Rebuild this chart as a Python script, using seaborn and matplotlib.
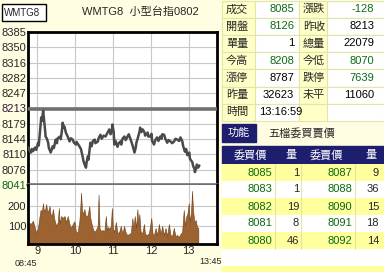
import numpy as np
import pandas as pd
import matplotlib
matplotlib.use("Agg")
import matplotlib.pyplot as plt
import seaborn as sns
from matplotlib.patches import Rectangle

sns.set_style("white")
plt.rcParams['font.family'] = ['Liberation Sans', 'Noto Sans CJK TC', 'DejaVu Sans']

# ---------------- data ----------------
price_min = [0, 1.6, 4.7, 6, 8, 11, 13, 16, 17, 19,
             21, 22, 24, 25, 27, 28, 30, 32, 33, 36,
             38, 39, 41, 44, 46, 47, 51, 52, 54, 55,
             57, 58, 60, 63, 66, 68, 71, 73, 76, 77,
             82, 84, 87, 88, 90, 92, 93, 95, 96, 99,
             101, 103, 106, 107, 111, 112, 115, 117, 120, 123,
             126, 129, 131, 133, 134, 136, 137, 139, 142, 144,
             147, 148, 150, 153, 155, 158, 160, 163, 166, 169,
             171, 172, 174, 177, 178, 180, 182, 185, 186, 190,
             191, 194, 196, 197, 200, 202, 205, 207, 210, 212,
             213, 216, 218, 221, 223, 226, 229, 232, 234, 237,
             240, 242, 245, 246, 249, 251, 253, 256, 257, 261,
             262, 264, 265, 267, 268, 270, 272]
price_val = [8126, 8120, 8114, 8122, 8117, 8125, 8120, 8136, 8130, 8160,
             8193, 8185, 8208, 8195, 8166, 8150, 8145, 8136, 8125, 8114,
             8122, 8128, 8124, 8143, 8135, 8146, 8150, 8144, 8165, 8181,
             8170, 8172, 8159, 8150, 8139, 8146, 8143, 8136, 8132, 8138,
             8127, 8122, 8103, 8095, 8087, 8080, 8092, 8105, 8098, 8136,
             8128, 8140, 8143, 8135, 8139, 8146, 8154, 8145, 8152, 8150,
             8158, 8166, 8155, 8162, 8177, 8160, 8132, 8140, 8127, 8135,
             8139, 8132, 8145, 8150, 8142, 8150, 8155, 8143, 8130, 8114,
             8125, 8136, 8145, 8161, 8170, 8160, 8166, 8159, 8152, 8159,
             8150, 8150, 8156, 8140, 8132, 8142, 8148, 8140, 8150, 8145,
             8155, 8154, 8145, 8136, 8142, 8139, 8135, 8139, 8145, 8143,
             8140, 8148, 8139, 8130, 8116, 8122, 8108, 8114, 8100, 8092,
             8084, 8078, 8070, 8080, 8087, 8080, 8085]

vol_min = [0, 4.2, 7.9, 10.5, 13.2, 15.8, 18.4, 20, 22.1, 23.7,
           25.2, 27.4, 28.9, 30.5, 32.6, 34.2, 35.8, 37.9, 39.5, 42.1,
           44.7, 47.3, 48.9, 50.5, 52.6, 55.2, 57.9, 60.5, 63.1, 65.8,
           68.4, 71, 73.6, 76.3, 78.9, 81.5, 83.1, 84.2, 85.7, 87.8,
           89.4, 92, 94.7, 97.3, 98.9, 101, 102.6, 105.2, 107.8, 110.5,
           112, 113.6, 115.7, 118.4, 121, 123.6, 125.2, 127.3, 129.4, 131.5,
           133.1, 134.7, 136.8, 139.4, 142, 144.7, 147.3, 149.9, 152.5, 155.2,
           157.8, 160.4, 163.1, 165.7, 167.3, 169.4, 171.5, 173.6, 175.2, 176.7,
           178.8, 181.5, 184.1, 185.7, 189.4, 192, 195.7, 197.8, 199.9, 202.5,
           205.1, 207.8, 210.4, 213, 215.7, 218.3, 220.9, 223.6, 226.2, 228.8,
           231.4, 234.1, 236.7, 239.3, 242, 244.6, 247.2, 249.3, 251.4, 253,
           255.1, 256.7, 258.8, 260.4, 261.9, 264.1, 266.2, 268.3, 270.4]
vol_val = [120, 110, 126, 95, 67, 90, 150, 181, 170, 214,
           175, 185, 210, 170, 180, 200, 160, 150, 185, 130,
           100, 120, 190, 110, 150, 140, 150, 120, 150, 110,
           90, 110, 124, 67, 70, 124, 200, 267, 180, 160,
           185, 145, 155, 200, 140, 110, 90, 70, 80, 100,
           257, 90, 75, 80, 70, 150, 80, 95, 85, 100,
           190, 90, 70, 120, 65, 70, 100, 60, 100, 65,
           55, 60, 65, 140, 80, 150, 90, 185, 100, 160,
           70, 65, 110, 60, 55, 65, 140, 60, 55, 90,
           55, 110, 60, 100, 55, 90, 50, 110, 55, 50,
           90, 50, 55, 45, 60, 70, 180, 100, 150, 160,
           214, 120, 170, 276, 180, 120, 130, 95, 90]

price_ticks = [8041, 8076, 8110, 8144, 8179, 8213, 8247, 8282, 8316, 8350, 8385]
prev_close = 8213
vol_ticks = [100, 200]
time_ticks = [15, 75, 135, 195, 255]
time_labels = ['9', '10', '11', '12', '13']

quote_labels_l = ['成交', '開盤', '單量', '今高', '漲停', '昨量', '時間']
quote_values_l = ['8085', '8126', '1', '8208', '8787', '32623', '13:16:59']
quote_colors_l = ['g', 'g', 'k', 'g', 'k', 'k', 'k']
quote_labels_r = ['漲跌', '昨收', '總量', '今低', '跌停', '未平', '']
quote_values_r = ['-128', '8213', '22079', '8070', '7639', '11060', '']
quote_colors_r = ['g', 'k', 'k', 'g', 'g', 'k', 'k']

bid_price = ['8085', '8083', '8082', '8081', '8080']
bid_qty = ['1', '1', '19', '8', '46']
ask_price = ['8087', '8088', '8090', '8091', '8092']
ask_qty = ['9', '36', '15', '18', '14']
book_header = ['委買價', '量', '委賣價', '量']

# ---------------- layout ----------------
W, H = 384, 272
BG = '#FFFEE2'
GREEN = '#0B6A12'
NAVY = '#1E1E6E'
cmap = {'g': GREEN, 'k': 'black'}

def px(x0, y0, x1, y1):
    return [x0 / W, 1 - y1 / H, (x1 - x0) / W, (y1 - y0) / H]

fig = plt.figure(figsize=(W / 100, H / 100), dpi=100, facecolor=BG)

ov = fig.add_axes([0, 0, 1, 1])
ov.set_xlim(0, W)
ov.set_ylim(H, 0)
ov.axis('off')

FS = 8

# title area
ov.add_patch(Rectangle((2, 4), 44, 17, fc='white', ec='black', lw=1))
ov.text(4, 12.5, 'WMTG8', ha='left', va='center', fontsize=7)
ov.text(140, 12, 'WMTG8  小型台指0802', ha='center', va='center', fontsize=FS)

# price axes
ax = fig.add_axes(px(28, 32, 217, 185))
ax.set_facecolor('white')
ymin, ymax = price_ticks[0], price_ticks[-1]
ax.set_xlim(0, 300)
ax.set_ylim(ymin, ymax)
grid_y = np.linspace(ymin, ymax, len(price_ticks))
ax.set_yticks(grid_y)
ax.set_yticklabels([str(v) for v in price_ticks])
ax.set_xticks(time_ticks)
ax.set_xticklabels([])
ax.grid(True, color='#C8C8C8', lw=0.8)
ax.set_axisbelow(True)
ax.axhline(prev_close, color='#707070', lw=2.6, zorder=3)
ax.axhline(ymin, color='#707070', lw=2.6, zorder=3, clip_on=False)
df = pd.DataFrame({'t': price_min, 'p': price_val})
sns.lineplot(data=df, x='t', y='p', ax=ax, color='#4A4A4A', lw=1.8,
             estimator=None, zorder=4)
ax.set_xlabel('')
ax.set_ylabel('')
ax.tick_params(axis='both', length=0, pad=1.2, labelsize=FS)
for lab in ax.get_yticklabels():
    if lab.get_text() == str(ymin):
        lab.set_color(GREEN)
    elif lab.get_text() == str(prev_close):
        lab.set_color('#301838')
for s in ['left', 'top', 'right']:
    ax.spines[s].set_color('black')
    ax.spines[s].set_linewidth(2)
ax.spines['bottom'].set_visible(False)

# volume axes
av = fig.add_axes(px(28, 185, 217, 244))
av.set_facecolor('white')
av.set_xlim(0, 300)
av.set_ylim(10, 305)
av.set_yticks(vol_ticks)
av.set_yticklabels([str(v) for v in vol_ticks])
av.set_xticks(time_ticks)
av.set_xticklabels(time_labels)
av.grid(True, color='#C8C8C8', lw=0.8)
av.set_axisbelow(True)
av.fill_between(vol_min, vol_val, 0, color='#9C6230', lw=0.4,
                edgecolor='#6E4018', zorder=2)
av.tick_params(axis='both', length=0, pad=1.2, labelsize=FS)
for s in ['left', 'bottom', 'right']:
    av.spines[s].set_color('black')
    av.spines[s].set_linewidth(2)
av.spines['top'].set_visible(False)

ov.text(26, 263, '08:45', ha='center', va='center', fontsize=6.5)
ov.text(211, 261, '13:45', ha='center', va='center', fontsize=6.5)

# quote table
RH = 17.2
for i in range(len(quote_labels_l)):
    y0 = 0.5 + RH * i
    yc = y0 + RH / 2
    ov.add_patch(Rectangle((222, y0), 33, RH, fc='#FFFFC8', ec='#E4E4A8', lw=0.8))
    ov.add_patch(Rectangle((255, y0), 44, RH, fc='white', ec='#E4E4A8', lw=0.8))
    ov.add_patch(Rectangle((299, y0), 28, RH, fc='#FFFFC8', ec='#E4E4A8', lw=0.8))
    ov.add_patch(Rectangle((327, y0), 57, RH, fc='white', ec='#E4E4A8', lw=0.8))
    ov.text(226, yc, quote_labels_l[i], ha='left', va='center', fontsize=FS)
    if ':' in quote_values_l[i]:
        ov.text(259, yc, quote_values_l[i], ha='left', va='center', fontsize=FS,
                color=cmap[quote_colors_l[i]])
    else:
        ov.text(294, yc, quote_values_l[i], ha='right', va='center', fontsize=FS,
                color=cmap[quote_colors_l[i]])
    if quote_labels_r[i]:
        ov.text(303, yc, quote_labels_r[i], ha='left', va='center', fontsize=FS)
    if quote_values_r[i]:
        ov.text(374, yc, quote_values_r[i], ha='right', va='center', fontsize=FS,
                color=cmap[quote_colors_r[i]])

# order book
ov.add_patch(Rectangle((222, 124), 34, 18, fc=NAVY, ec=NAVY))
ov.text(239, 133, '功能', ha='center', va='center', fontsize=FS, color='white')
ov.text(268, 133, '五檔委買賣價', ha='left', va='center', fontsize=FS)
ov.add_patch(Rectangle((222, 146), 162, 18, fc=NAVY, ec=NAVY))
for xc, txt in zip([250, 291, 326, 371], book_header):
    ov.text(xc, 155, txt, ha='center', va='center', fontsize=FS, color='white')
BR = 17
for i in range(7):
    y0 = 164 + BR * i
    ov.add_patch(Rectangle((222, y0), 162, BR, fc='#FFFF9E' if i % 2 == 0 else 'white',
                           ec='none'))
for x in [275, 301, 355]:
    ov.plot([x, x], [164, 249], color='#E4E4A8', lw=0.8)
for i in range(len(bid_price)):
    yc = 164 + BR * i + BR / 2
    ov.text(272, yc, bid_price[i], ha='right', va='center', fontsize=FS, color=GREEN)
    ov.text(299, yc, bid_qty[i], ha='right', va='center', fontsize=FS)
    ov.text(352, yc, ask_price[i], ha='right', va='center', fontsize=FS, color=GREEN)
    ov.text(379, yc, ask_qty[i], ha='right', va='center', fontsize=FS)

fig.savefig('out.png', dpi=100, facecolor=BG)
